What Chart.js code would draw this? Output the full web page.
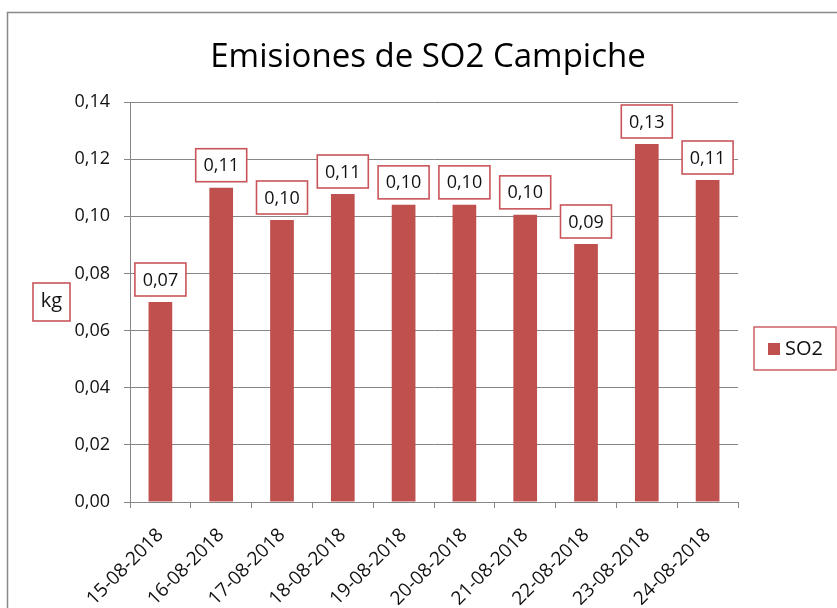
<!DOCTYPE html>
<html>
<head>
<meta charset="utf-8">
<script src="https://cdn.jsdelivr.net/npm/chart.js@4/dist/chart.umd.min.js"></script>
<style>
  body { margin: 0; background: #fff; }
</style>
</head>
<body>
<canvas id="chart" width="837" height="608"></canvas>
<script>
// DATA

const dates = [
  '15-08-2018',
  '16-08-2018',
  '17-08-2018',
  '18-08-2018',
  '19-08-2018',
  '20-08-2018',
  '21-08-2018',
  '22-08-2018',
  '23-08-2018',
  '24-08-2018',
];

const so2 = [0.07, 0.11, 0.0987, 0.1078, 0.104, 0.104, 0.1005, 0.0903, 0.1253, 0.1127];

const seriesName = 'SO2';
const chartTitle = 'Emisiones de SO2 Campiche';
const yTitle = 'kg';

// STYLE

const FONT = "'Open Sans', 'Liberation Sans', sans-serif";
const RED = '#c0504d';
const BOX_RED = '#c9555a';
const GRID = '#868686';

const fmt = (v) => v.toFixed(2).replace('.', ',');

// frame, title, value boxes, axis title box and legend
const extras = {
  id: 'extras',
  beforeDraw(chart) {
    const { ctx } = chart;
    ctx.save();
    ctx.fillStyle = '#fff';
    ctx.fillRect(0, 0, chart.width, chart.height);
    ctx.strokeStyle = '#888';
    ctx.lineWidth = 1.5;
    ctx.strokeRect(7.5, 12.5, chart.width + 20, chart.height + 20);

    ctx.font = `33px ${FONT}`;
    ctx.fillStyle = '#000';
    ctx.textAlign = 'center';
    ctx.textBaseline = 'alphabetic';
    ctx.fillText(chartTitle, 428, 67);
    ctx.restore();
  },
  afterDatasetsDraw(chart) {
    const { ctx, chartArea } = chart;
    const meta = chart.getDatasetMeta(0);
    ctx.save();
    ctx.font = `18px ${FONT}`;
    ctx.textAlign = 'center';
    ctx.textBaseline = 'middle';
    meta.data.forEach((bar, i) => {
      const w = 51;
      const h = 33;
      const x = bar.x - w / 2;
      const y = bar.y - 6 - h;
      ctx.fillStyle = '#fff';
      ctx.fillRect(x, y, w, h);
      ctx.strokeStyle = BOX_RED;
      ctx.lineWidth = 1.6;
      ctx.strokeRect(x, y, w, h);
      ctx.fillStyle = '#111';
      ctx.fillText(fmt(so2[i]), bar.x, y + h / 2 + 1);
    });

    // axis title "kg"
    const cy = (chartArea.top + chartArea.bottom) / 2;
    ctx.font = `20px ${FONT}`;
    ctx.fillStyle = '#fff';
    ctx.fillRect(33, cy - 19, 37, 38);
    ctx.strokeStyle = BOX_RED;
    ctx.strokeRect(33, cy - 19, 37, 38);
    ctx.fillStyle = '#111';
    ctx.fillText(yTitle, 51.5, cy - 1);

    // legend
    const lx = chartArea.right + 16;
    const ly = 327;
    ctx.strokeStyle = BOX_RED;
    ctx.lineWidth = 1.4;
    ctx.strokeRect(lx, ly, 82, 43);
    ctx.fillStyle = RED;
    ctx.fillRect(lx + 14, ly + 16, 12, 12);
    ctx.fillStyle = '#111';
    ctx.textAlign = 'left';
    ctx.fillText(seriesName, lx + 31, ly + 22);
    ctx.restore();
  },
};

const chart = new Chart(document.querySelector('#chart'), {
  type: 'bar',
  data: {
    labels: dates,
    datasets: [
      {
        label: seriesName,
        data: so2,
        backgroundColor: RED,
        borderWidth: 0,
        barPercentage: 0.39,
        categoryPercentage: 1,
      },
    ],
  },
  options: {
    responsive: false,
    animation: false,
    layout: {
      padding: { left: 70, right: 99, top: 102, bottom: 0 },
    },
    plugins: {
      legend: false,
      tooltip: { enabled: false },
      title: { display: false },
    },
    scales: {
      x: {
        afterFit: (scale) => {
          scale.height = 106;
        },
        grid: {
          offset: true,
          drawOnChartArea: false,
          drawTicks: true,
          tickLength: 6,
          color: GRID,
        },
        border: { color: GRID, width: 1 },
        ticks: {
          minRotation: 45,
          maxRotation: 45,
          color: '#111',
          padding: 16,
          font: { family: FONT, size: 19 },
        },
      },
      y: {
        min: 0,
        max: 0.14,
        afterFit: (scale) => {
          scale.width = 60;
        },
        grid: {
          color: GRID,
          tickLength: 6,
        },
        border: { color: GRID, width: 1 },
        ticks: {
          stepSize: 0.02,
          color: '#111',
          padding: 14,
          font: { family: FONT, size: 18 },
          callback: (v) => fmt(v),
        },
      },
    },
  },
  plugins: [extras],
});
</script>
</body>
</html>
